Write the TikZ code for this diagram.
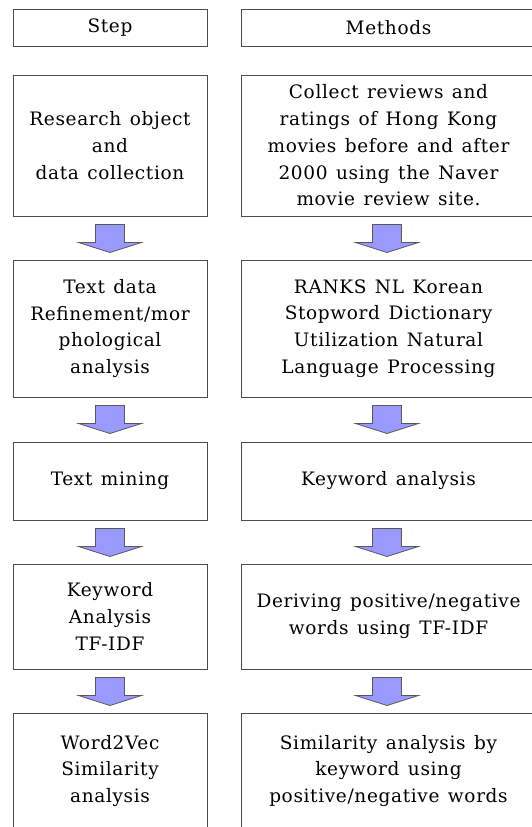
\documentclass[tikz,border=0pt]{standalone}
\usepackage{fontspec}
\setmainfont{DejaVu Serif}[LetterSpace=3.5, WordSpace=1.3]
\definecolor{arrowblue}{RGB}{153,153,255}
\tikzset{
  box/.style={draw=black!70, line width=1pt, align=center, inner sep=0pt,
    font=\fontsize{18.5}{26.8}\selectfont},
  stepbox/.style={box, minimum width=194pt},
  methodbox/.style={box, minimum width=295pt},
  blockarrow/.pic={
    \draw[draw=black!65, line width=0.8pt, fill=arrowblue, line join=miter]
      (-14.5,0) -- (14.5,0) -- (14.5,18) -- (31.5,18) -- (0,28)
      -- (-31.5,18) -- (-14.5,18) -- cycle;
  }
}

\begin{document}
\begin{tikzpicture}[x=1pt, y=-1pt]
  %tikz  flow of steps and methods
  \useasboundingbox (0,0) rectangle (532,827);
  \clip (0,0) rectangle (532,827);
  \def\lx{110}
  \def\rx{388.5}
  % headers
  \node[stepbox, minimum height=37pt] (step) at (\lx,27.5) {Step};
  \node[methodbox, minimum height=37pt] (methods) at (\rx,27.5) {Methods};
  % row 1
  \node[stepbox, minimum height=141pt] (collect) at (\lx,145.5)
    {Research object\\and\\data collection};
  \node[methodbox, minimum height=141pt] (reviews) at (\rx,145.5)
    {Collect reviews and\\ratings of Hong Kong\\movies before and after\\2000 using the Naver\\movie review site.};
  % row 2
  \node[stepbox, minimum height=137pt] (refine) at (\lx,328.5)
    {Text data\\Refinement/mor\\phological\\analysis};
  \node[methodbox, minimum height=137pt] (ranks) at (\rx,328.5)
    {RANKS NL Korean\\Stopword Dictionary\\Utilization Natural\\Language Processing};
  % row 3
  \node[stepbox, minimum height=78pt] (mining) at (\lx,481) {Text mining};
  \node[methodbox, minimum height=78pt] (keyword) at (\rx,481) {Keyword analysis};
  % row 4
  \node[stepbox, minimum height=105pt] (tfidf) at (\lx,616.5)
    {Keyword\\Analysis\\TF-IDF};
  \node[methodbox, minimum height=105pt] (deriving) at (\rx,616.5)
    {Deriving positive/negative\\words using TF-IDF};
  % row 5
  \node[stepbox, minimum height=116pt] (wordvec) at (\lx,771)
    {Word2Vec\\Similarity\\analysis};
  \node[methodbox, minimum height=116pt] (similar) at (\rx,771)
    {Similarity analysis by\\keyword using\\positive/negative words};
  % arrows
  \foreach \a in {collect,refine,mining,tfidf}{
    \path (\a.south) ++(0,8) pic {blockarrow};
  }
  \foreach \a in {reviews,ranks,keyword,deriving}{
    \path (\a.south) ++(-1.5,8) pic {blockarrow};
  }
\end{tikzpicture}
\end{document}
